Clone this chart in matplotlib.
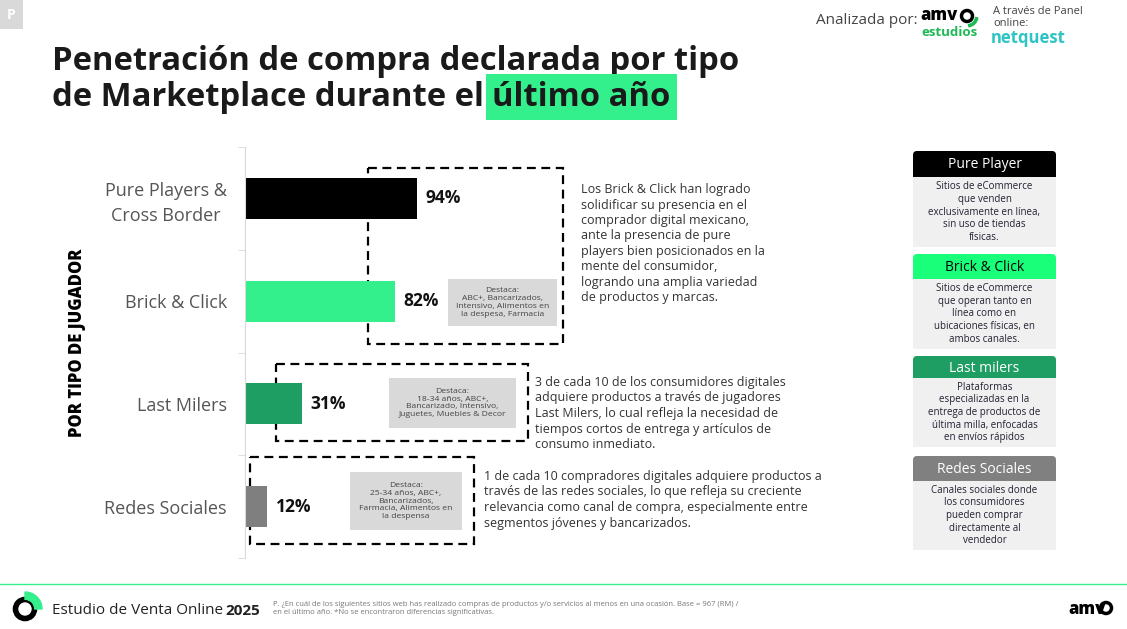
import matplotlib
matplotlib.use('Agg')
from matplotlib import pyplot as plt
from matplotlib.patches import Rectangle, FancyBboxPatch, Wedge, Circle

plt.rcParams['font.family'] = ['Open Sans', 'DejaVu Sans']

# datos
categories = ['Pure Players &\nCross Border', 'Brick & Click', 'Last Milers', 'Redes Sociales']
values = [94, 82, 31, 12]
bar_colors = ['#000000', '#33F08C', '#1E9E62', '#7F7F7F']

destaca = [None,
           'Destaca:\nABC+, Bancarizados,\nIntensivo, Alimentos en\nla despesa, Farmacia',
           'Destaca:\n18-34 años, ABC+,\nBancarizado, Intensivo,\nJuguetes, Muebles & Decor',
           'Destaca:\n25-34 años, ABC+,\nBancarizados,\nFarmacia, Alimentos en\nla despensa']

comments = ['Los Brick & Click han logrado\nsolidificar su presencia en el\ncomprador digital mexicano,\n'
            'ante la presencia de pure\nplayers bien posicionados en la\nmente del consumidor,\n'
            'logrando una amplia variedad\nde productos y marcas.',
            '3 de cada 10 de los consumidores digitales\nadquiere productos a través de jugadores\n'
            'Last Milers, lo cual refleja la necesidad de\ntiempos cortos de entrega y artículos de\n'
            'consumo inmediato.',
            '1 de cada 10 compradores digitales adquiere productos a\ntravés de las redes sociales, lo que refleja su creciente\n'
            'relevancia como canal de compra, especialmente entre\nsegmentos jóvenes y bancarizados.']

card_titles = ['Pure Player', 'Brick & Click', 'Last milers', 'Redes Sociales']
card_colors = ['#000000', '#1AFF7A', '#1E9E62', '#808080']
card_text_colors = ['white', 'black', 'white', 'white']
card_bodies = ['Sitios de eCommerce\nque venden\nexclusivamente en línea,\nsin uso de tiendas\nfísicas.',
               'Sitios de eCommerce\nque operan tanto en\nlínea como en\nubicaciones físicas, en\nambos canales.',
               'Plataformas\nespecializadas en la\nentrega de productos de\núltima milla, enfocadas\nen envíos rápidos',
               'Canales sociales donde\nlos consumidores\npueden comprar\ndirectamente al\nvendedor']

W, H = 1127, 629
fig = plt.figure(figsize=(W / 100, H / 100), dpi=100)

# fondo en pixeles
bg = fig.add_axes([0, 0, 1, 1])
bg.set_xlim(0, W)
bg.set_ylim(H, 0)
bg.axis('off')

# --- grafico de barras ---
ax = fig.add_axes([245 / W, 1 - 558 / H, 182.6 / W, 411 / H])
ypos = list(range(len(categories)))
ax.barh(ypos, values, height=0.4, color=bar_colors)
ax.set_xlim(0, 100)
ax.set_ylim(3.5, -0.5)
ax.set_yticks(ypos)
ax.set_yticklabels(categories, fontsize=13, color='#555555', ha='right',
                   multialignment='center', linespacing=1.45)
ax.tick_params(axis='y', length=0, pad=13)
ax.set_yticks([-0.5, 0.5, 1.5, 2.5, 3.5], minor=True)
ax.tick_params(axis='y', which='minor', length=5, color='#d9d9d9')
ax.set_xticks([])
for s in ['top', 'right', 'bottom']:
    ax.spines[s].set_visible(False)
ax.spines['left'].set_color('#d9d9d9')
ax.patch.set_alpha(0)
for i, v in enumerate(values):
    ax.text(v + 5, i, '{}%'.format(v), va='center', ha='left', fontsize=12.5,
            fontweight='bold', color='#111111')

# etiqueta vertical
bg.text(77, 343, 'POR TIPO DE JUGADOR', rotation=90, ha='center', va='center',
        fontsize=12, fontweight='heavy', color='black')

# cajas punteadas
dashed = [(368, 168, 563, 344), (276, 364, 528, 441), (250, 457, 474, 544)]
for x0, y0, x1, y1 in dashed:
    bg.add_patch(Rectangle((x0, y0), x1 - x0, y1 - y0, fill=False, ec='black',
                           lw=1.6, ls=(0, (4, 2.5)), zorder=5))

# cajas "Destaca"
dest_boxes = [None, (448, 279, 557, 326), (389, 378, 516, 428), (350, 472, 462, 530)]
for txt, b in zip(destaca, dest_boxes):
    if b is None:
        continue
    x0, y0, x1, y1 = b
    bg.add_patch(Rectangle((x0, y0), x1 - x0, y1 - y0, color='#D9D9D9', lw=0, zorder=2))
    bg.text((x0 + x1) / 2, (y0 + y1) / 2, txt, ha='center', va='center', fontsize=6.1,
            color='#444444', linespacing=1.15, zorder=3)

# comentarios
comment_pos = [(581, 183), (535, 376), (484, 470)]
for txt, (x, y) in zip(comments, comment_pos):
    bg.text(x, y, txt, ha='left', va='top', fontsize=9, color='#333333', linespacing=1.25)

# tarjetas derecha
cards = [(151, 177, 247), (254, 279, 349), (356, 378, 447), (456, 481, 550)]
cx0, cx1 = 913, 1056
for t, c, tc, body, (y0, y1, y2) in zip(card_titles, card_colors, card_text_colors, card_bodies, cards):
    bg.add_patch(Rectangle((cx0, y1), cx1 - cx0, y2 - y1, color='#F0F0F0', lw=0, zorder=2))
    bg.add_patch(FancyBboxPatch((cx0, y0), cx1 - cx0, y1 - y0,
                                boxstyle='round,pad=0,rounding_size=4', fc=c, lw=0, zorder=3))
    bg.add_patch(Rectangle((cx0, (y0 + y1) / 2), cx1 - cx0, (y1 - y0) / 2, fc=c, lw=0, zorder=3))
    bg.text((cx0 + cx1) / 2, (y0 + y1) / 2 + 1, t, ha='center', va='center', fontsize=10,
            color=tc, zorder=4)
    bg.text((cx0 + cx1) / 2, (y1 + y2) / 2, body, ha='center', va='center', fontsize=7,
            color='#222233', linespacing=1.2, zorder=4)

# titulo
bg.text(52, 61, 'Penetración de compra declarada por tipo', ha='left', va='center',
        fontsize=23.6, fontweight='bold', color='#1a1a1a')
t2 = bg.text(52, 97, 'de Marketplace durante el ', ha='left', va='center',
             fontsize=23.6, fontweight='bold', color='#1a1a1a')
fig.canvas.draw()
r = fig.canvas.get_renderer()
bb = t2.get_window_extent(r)
xend = bg.transData.inverted().transform((bb.x1, bb.y0))[0]
bg.text(xend, 97, 'último año', ha='left', va='center', fontsize=23.6, fontweight='bold',
        color='#1a1a1a',
        bbox=dict(boxstyle='square,pad=0.2', fc='#33F08C', ec='none'))

# cuadro "P"
bg.add_patch(Rectangle((0, 0), 23, 29, color='#D9D9D9', lw=0))
bg.text(11.5, 15, 'P', ha='center', va='center', fontsize=10, fontweight='bold', color='white')

# encabezado derecho
bg.text(816, 20, 'Analizada por:', ha='left', va='center', fontsize=11, color='#444444')
bg.text(920, 15, 'amv', ha='left', va='center', fontsize=12, fontweight='heavy', color='black')
bg.add_patch(Circle((967, 16), 5.5, fill=False, ec='black', lw=2.5))
bg.add_patch(Wedge((967, 16), 11, 10, 80, width=2.2, color='#1DB954'))
bg.text(921, 32, 'estudios', ha='left', va='center', fontsize=9.5, fontweight='bold', color='#1DB954')
bg.text(993, 6, 'A través de Panel\nonline:', ha='left', va='top', fontsize=8, color='#444444',
        linespacing=1.1)
bg.text(991, 38, 'netquest', ha='left', va='center', fontsize=12, fontweight='bold', color='#2EC4C4')

# pie
bg.plot([0, W], [584, 584], color='#33F08C', lw=1)
bg.add_patch(Circle((25, 609), 9.5, fill=False, ec='black', lw=4))
bg.add_patch(Wedge((25, 609), 17, 270, 360, width=3.5, color='#33F08C'))
bg.add_patch(Wedge((25, 609), 12.5, 270, 360, width=2.8, color='#33F08C'))
bg.text(52, 611, 'Estudio de Venta Online ', ha='left', va='center', fontsize=11, color='#222222')
bg.text(225, 611, '2025', ha='left', va='center', fontsize=11, fontweight='bold', color='#222222')
bg.text(273, 608, 'P. ¿En cuál de los siguientes sitios web has realizado compras de productos y/o servicios '
        'al menos en una ocasión. Base = 967 (RM) /\nen el último año. *No se encontraron diferencias significativas.',
        ha='left', va='center', fontsize=5.5, color='#777777', linespacing=1.2)
bg.text(1068, 609, 'amv', ha='left', va='center', fontsize=12, fontweight='heavy', color='black')
bg.add_patch(Circle((1106, 608), 5.5, fill=False, ec='black', lw=2.5))

fig.savefig('out.png', dpi=100)
